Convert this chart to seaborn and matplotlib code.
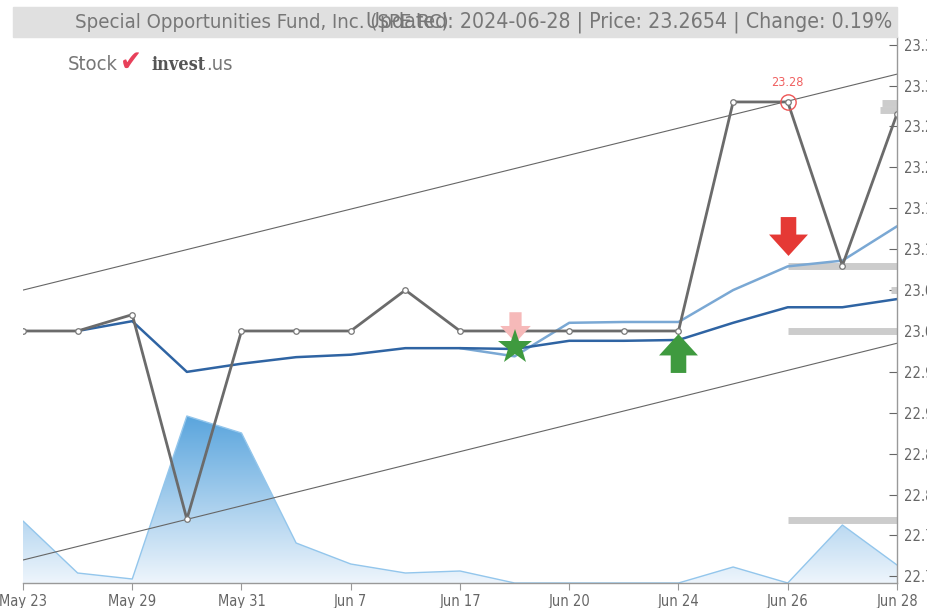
import numpy as np
import pandas as pd
import matplotlib
matplotlib.use("Agg")
import matplotlib.pyplot as plt
from matplotlib.path import Path
import seaborn as sns

# ---- data ----
day = list(range(17))
tick_pos = [0, 2, 4, 6, 8, 10, 12, 14, 16]
tick_labels = ["May 23", "May 29", "May 31", "Jun 7", "Jun 17",
               "Jun 20", "Jun 24", "Jun 26", "Jun 28"]
price = [23.00, 23.00, 23.02, 22.77, 23.00, 23.00, 23.00, 23.05, 23.00,
         23.00, 23.00, 23.00, 23.00, 23.28, 23.28, 23.08, 23.2654]
ma_long = [np.nan, 23.000, 23.012, 22.950, 22.960, 22.968, 22.971, 22.979, 22.979,
           22.978, 22.988, 22.988, 22.989, 23.010, 23.029, 23.029, 23.039]
ma_short = [np.nan] * 8 + [22.979, 22.969, 23.010, 23.011, 23.011,
                           23.050, 23.079, 23.086, 23.128]
volume = [6200, 1000, 400, 16700, 15000, 4000, 1900, 1000, 1200, 0,
          0, 0, 0, 1600, 0, 5800, 1800]

channel_x = [0, 16]
channel_upper = [23.050, 23.314]
channel_lower = [22.720, 22.985]

sr_levels = [23.279, 23.270, 23.080, 23.050, 23.000, 22.769]
sr_start = [15.73, 15.69, 14, 15.89, 14, 14]

high_day, high_val = 14, 23.28
sell_day, sell_val = 14, 23.116
buy_day, buy_val = 12, 22.973
star_day, star_val = 9, 22.980
faded_day, faded_val = 9, 23.005

y_ticks = [22.70, 22.75, 22.80, 22.85, 22.90, 22.95, 23.00,
           23.05, 23.10, 23.15, 23.20, 23.25, 23.30, 23.35]

sns.set_style("white")
plt.rcParams['font.family'] = ['DejaVu Sans']
plt.rcParams['font.stretch'] = 'condensed'

W, H = 928, 608
fig = plt.figure(figsize=(W / 100, H / 100), dpi=100)
rect = [23 / W, 25 / H, (897 - 23) / W, (583 - 37) / H]

# volume in the background
axv = fig.add_axes(rect)
axv.set_xlim(0, 16)
axv.set_ylim(0, 54600)
poly = axv.fill_between(day, volume, 0, color="none", lw=0)
grad = np.linspace(1, 0, 256).reshape(-1, 1)
cmap = matplotlib.colors.LinearSegmentedColormap.from_list("v", ["#eef5fc", "#5aa5dd"])
im = axv.imshow(grad, cmap=cmap, aspect="auto", extent=[0, 16, 0, max(volume)],
                vmin=0, vmax=1, zorder=1)
im.set_clip_path(poly.get_paths()[0], transform=axv.transData)
axv.plot(day, volume, color="#93c6ec", lw=1.0, zorder=2)
axv.set_xlim(0, 16)
axv.set_ylim(0, 54600)
axv.axis("off")

ax = fig.add_axes(rect)
ax.patch.set_visible(False)

df = pd.DataFrame({"day": day, "price": price, "ma_long": ma_long, "ma_short": ma_short})

ax.plot(channel_x, channel_upper, color="#666666", lw=0.8)
ax.plot(channel_x, channel_lower, color="#666666", lw=0.8)

sns.lineplot(data=df, x="day", y="ma_short", ax=ax, color="#7aa8d4", lw=1.8)
sns.lineplot(data=df, x="day", y="ma_long", ax=ax, color="#2f64a3", lw=1.8)
sns.lineplot(data=df, x="day", y="price", ax=ax, color="#6b6b6b", lw=2.0,
             marker="o", markersize=4, markerfacecolor="white",
             markeredgecolor="#777777", markeredgewidth=0.9)

for lvl, st in zip(sr_levels, sr_start):
    ax.plot([st, 16], [lvl, lvl], color="#cccccc", lw=5, solid_capstyle="butt", zorder=1)

# arrows / markers
down_arrow = Path([(-0.2, 0.5), (0.2, 0.5), (0.2, 0.05), (0.5, 0.05), (0, -0.5),
                   (-0.5, 0.05), (-0.2, 0.05), (-0.2, 0.5)])
up_arrow = Path([(-0.2, -0.5), (0.2, -0.5), (0.2, -0.05), (0.5, -0.05), (0, 0.5),
                 (-0.5, -0.05), (-0.2, -0.05), (-0.2, -0.5)])
ax.plot([faded_day], [faded_val], marker=down_arrow, markersize=22, color="#f6b9b9",
        markeredgewidth=0, zorder=5)
ax.plot([star_day], [star_val], marker="*", markersize=26, color="#3f9a3f",
        markeredgewidth=0, zorder=6)
ax.plot([buy_day], [buy_val], marker=up_arrow, markersize=28, color="#3f9a3f",
        markeredgewidth=0, zorder=6)
ax.plot([sell_day], [sell_val], marker=down_arrow, markersize=28, color="#e53935",
        markeredgewidth=0, zorder=6)
ax.plot([high_day], [high_val], marker="o", markersize=11, markerfacecolor="none",
        markeredgecolor="#ee5555", markeredgewidth=1.0, zorder=7)
ax.annotate(f"{high_val:.2f}", (high_day, high_val), xytext=(0, 9),
            textcoords="offset points", ha="center", va="bottom",
            color="#f06060", fontsize=9)

ax.set_xlim(0, 16)
ax.set_ylim(22.6919, 23.3594)
ax.set_xticks(tick_pos)
ax.set_xticklabels(tick_labels)
ax.set_yticks(y_ticks)
ax.set_yticklabels([f"{v:.2f}" for v in y_ticks])
ax.yaxis.tick_right()
ax.set_xlabel("")
ax.set_ylabel("")
for s in ["left", "top"]:
    ax.spines[s].set_visible(False)
for s in ["right", "bottom"]:
    ax.spines[s].set_color("#999999")
    ax.spines[s].set_linewidth(1.0)
ax.tick_params(axis="x", direction="out", length=5, color="#999999",
               labelcolor="#666666", labelsize=10.5, pad=3, bottom=True)
ax.tick_params(axis="y", direction="in", length=6, color="#666666",
               labelcolor="#666666", labelsize=10.5, pad=5, right=True, left=False)

# title bar
fig.patches.append(matplotlib.patches.Rectangle((13 / W, 1 - 37 / H), (897 - 13) / W, 30 / H,
                                                transform=fig.transFigure, color="#e0e0e0",
                                                zorder=0))
t_left = fig.text(75 / W, 1 - 22 / H, "Special Opportunities Fund, Inc. (SPE.RC)",
                  ha="left", va="center", fontsize=14.5, color="#777777")
t_right = fig.text(892 / W, 1 - 22 / H, "Updated: 2024-06-28 | Price: 23.2654 | Change: 0.19%",
                   ha="right", va="center", fontsize=14.5, color="#777777")

# logo
t_stock = fig.text(68 / W, 1 - 65 / H, "Stock", ha="left", va="center",
                   fontsize=14.5, color="#777777")
t_check = fig.text(120 / W, 1 - 63 / H, "\u2714", ha="left", va="center", fontsize=21,
                   color="#e8405a", family="DejaVu Sans")
t_inv = fig.text(152 / W, 1 - 65 / H, "invest", ha="left", va="center", fontsize=13,
                 color="#555555", fontweight="bold", family="DejaVu Serif")
t_us = fig.text(230 / W, 1 - 65 / H, ".us", ha="left", va="center",
                fontsize=14.5, color="#777777")

# size the title pieces so they overlap as in the source
fig.canvas.draw()
rend = fig.canvas.get_renderer()
t_right.set_fontsize(14.5 * 525 / t_right.get_window_extent(rend).width)
t_left.set_fontsize(14.5 * 373 / t_left.get_window_extent(rend).width)
fig.canvas.draw()
t_us.set_x(t_inv.get_window_extent(rend).x1 / W)

fig.savefig("out.png", dpi=100)
